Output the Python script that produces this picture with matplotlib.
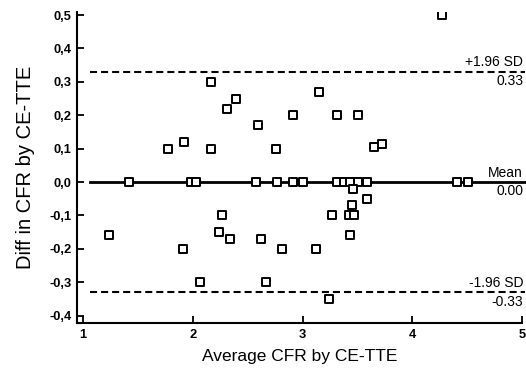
import matplotlib
matplotlib.use("Agg")
import matplotlib.pyplot as plt
from matplotlib.ticker import FuncFormatter

# Bland-Altman data
avg_cfr = [2.17, 2.31, 2.39, 2.59, 2.76, 1.77, 1.92, 2.17, 2.91, 4.27, 3.15, 3.31, 3.51,
           3.65, 3.72,
           1.42, 1.98, 2.03, 2.58, 2.77, 2.91, 3.00, 3.31, 3.38, 3.43, 3.51, 3.59, 4.41, 4.51,
           3.46, 3.45, 3.59, 3.27, 3.42, 3.47, 3.43,
           1.24, 1.91, 2.27, 2.24, 2.34, 2.62, 2.81, 3.12, 2.07, 2.67, 3.24]
diff_cfr = [0.30, 0.22, 0.25, 0.17, 0.10, 0.10, 0.12, 0.10, 0.20, 0.50, 0.27, 0.20, 0.20,
            0.105, 0.115,
            0.0, 0.0, 0.0, 0.0, 0.0, 0.0, 0.0, 0.0, 0.0, 0.0, 0.0, 0.0, 0.0, 0.0,
            -0.02, -0.07, -0.05, -0.10, -0.10, -0.10, -0.16,
            -0.16, -0.20, -0.10, -0.15, -0.17, -0.17, -0.20, -0.20, -0.30, -0.30, -0.35]

mean_diff = 0.0
upper_loa = 0.33
lower_loa = -0.33

x_ticks = [1, 2, 3, 4, 5]
y_ticks = [-0.4, -0.3, -0.2, -0.1, 0.0, 0.1, 0.2, 0.3, 0.4, 0.5]

plt.rcParams['font.family'] = ['Liberation Sans', 'DejaVu Sans']

fig = plt.figure(figsize=(5.26, 3.71), dpi=100)
ax = fig.add_axes([77 / 526, 1 - 323 / 371, 445 / 526, (323 - 11.7) / 371])

ax.scatter(avg_cfr, diff_cfr, marker='s', s=34, facecolors='white',
           edgecolors='black', linewidths=1.4, zorder=3)

# mean and limits of agreement
ax.plot([1.06, 5.03], [mean_diff, mean_diff], color='black', lw=2, clip_on=False, zorder=2)
for y in (upper_loa, lower_loa):
    ax.plot([1.06, 5.03], [y, y], color='black', lw=1.5, ls=(0, (3.4, 1.9)),
            clip_on=False, zorder=2)

labels = [(upper_loa, '+1.96 SD', '%.2f' % upper_loa),
          (mean_diff, 'Mean', '%.2f' % mean_diff),
          (lower_loa, '-1.96 SD', '%.2f' % lower_loa)]
for y, top, bottom in labels:
    ax.text(5.01, y + 0.007, top, ha='right', va='bottom', fontsize=10)
    ax.text(5.01, y - 0.007, bottom, ha='right', va='top', fontsize=10)

ax.set_xlim(0.945, 5.0)
ax.set_ylim(-0.422, 0.51)
ax.set_xticks(x_ticks)
ax.set_yticks(y_ticks)
ax.yaxis.set_major_formatter(FuncFormatter(lambda v, p: ('%.1f' % v).replace('.', ',')))

ax.spines['top'].set_visible(False)
ax.spines['right'].set_visible(False)
ax.spines['left'].set_linewidth(1.5)
ax.spines['bottom'].set_linewidth(1.5)
ax.tick_params(direction='in', length=5, width=1.3, labelsize=9.3, pad=4)
for lbl in ax.get_xticklabels() + ax.get_yticklabels():
    lbl.set_fontweight('bold')

ax.set_xlabel('Average CFR by CE-TTE', fontsize=12.5, labelpad=6)
ax.set_ylabel('Diff in CFR by CE-TTE', fontsize=14.5, labelpad=10)

fig.savefig('out.png', dpi=100)
